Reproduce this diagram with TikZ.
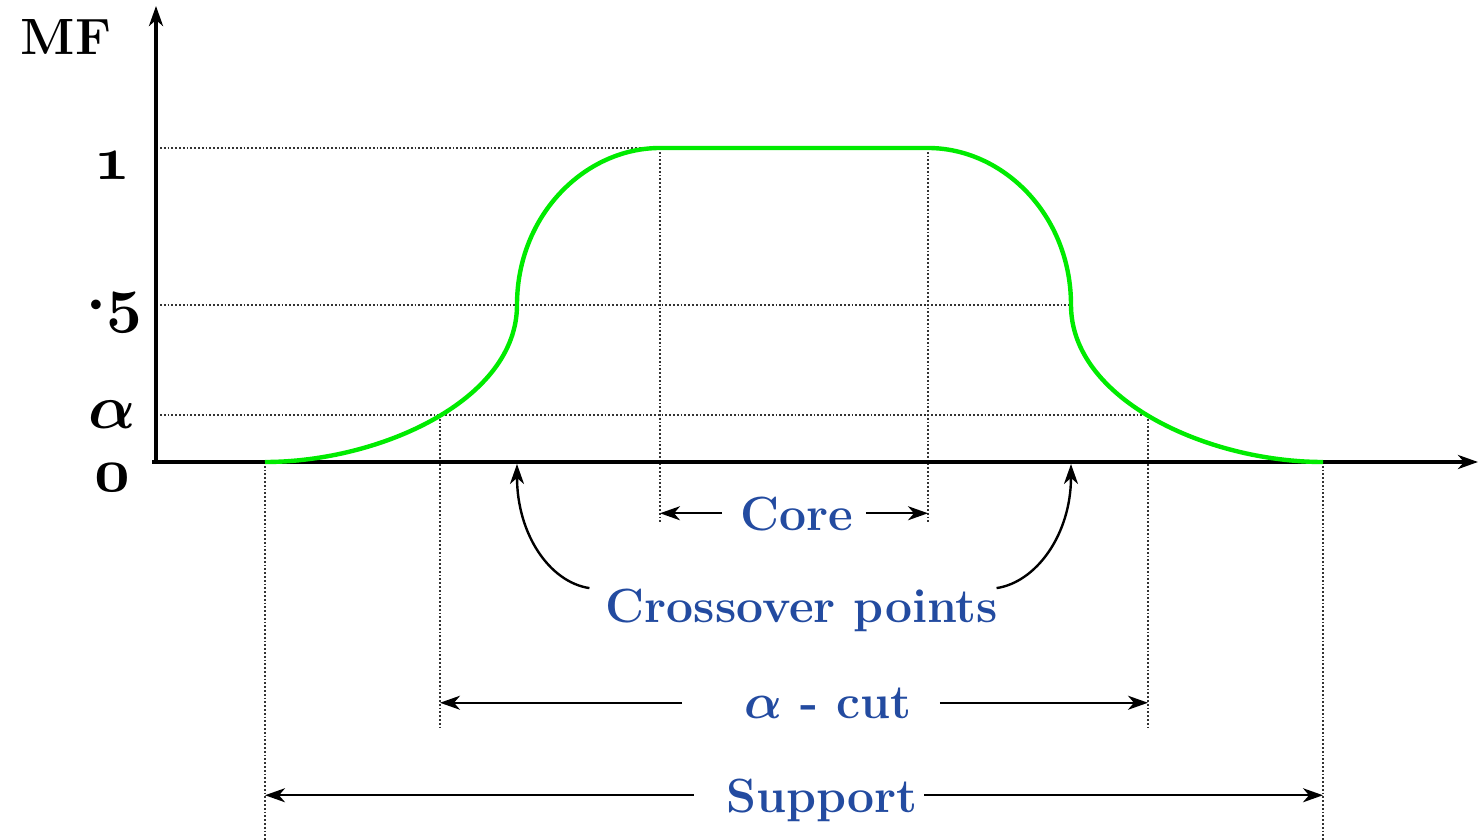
\documentclass[tikz,border=0pt]{standalone}
\usetikzlibrary{positioning,arrows.meta}
\definecolor{labelblue}{RGB}{35,75,160}
\definecolor{mfgreen}{RGB}{0,235,0}
\newcommand{\osf}[1]{{\usefont{OML}{cmm}{b}{it}#1}}

\begin{document}
\begin{tikzpicture}[x=0.5pt,y=-0.5pt,>={Stealth[length=10pt,width=7pt,inset=3pt]},
    axis/.style={line width=2pt,->},
    guide/.style={densely dotted,black!80,line width=0.9pt},
    mf/.style={mfgreen,line width=2.2pt},
    tick/.style={inner sep=0pt,scale=1.25,font=\fontsize{24}{28}\selectfont\bfseries\boldmath},
    tag/.style={inner sep=0pt,text depth=0pt,anchor=base,text=labelblue,font=\fontsize{24}{28}\selectfont\bfseries\boldmath},
    dim/.style={->,line width=1.2pt}]
    \useasboundingbox (0,0) rectangle (1480,840);

    % key points of the membership function
    \coordinate (o) at (156,462);
    \coordinate (s1) at (265,462);
    \coordinate (s2) at (1323,462);
    \coordinate (a1) at (440,415);
    \coordinate (a2) at (1148,415);
    \coordinate (h1) at (517,305);
    \coordinate (h2) at (1071,305);
    \coordinate (k1) at (660,148);
    \coordinate (k2) at (928,148);
    \coordinate (c1) at (517,464);
    \coordinate (c2) at (1071,464);

    % dotted guides
    \draw[guide] (160,148) -- (k2);
    \draw[guide] (160,305) -- (h2);
    \draw[guide] (160,415) -- (a2);
    \draw[guide] (k1) -- (660,522);
    \draw[guide] (k2) -- (928,522);
    \draw[guide] (a1) -- (440,730);
    \draw[guide] (a2) -- (1148,730);
    \draw[guide] (s1) -- (265,840);
    \draw[guide] (s2) -- (1323,840);

    % axes
    \draw[axis] (o) -- (156,6);
    \draw[axis] (152,462) -- (1478,462);

    % membership curve
    \draw[mf] (s1) .. controls (380,462) and (517,400) .. (h1)
        .. controls (517,215) and (585,148) .. (k1) -- (k2)
        .. controls (1003,148) and (1071,215) .. (h2)
        .. controls (1071,400) and (1208,462) .. (s2);

    % axis labels
    \node[tick,scale=0.85] (mflabel) at (66,37) {MF};
    \node[tick] (one) at (112,166) {\osf{1}};
    \node[tick] (half) at (114,312) {$\cdot$\osf{5}};
    \node[tick] (alph) at (112,415) {$\alpha$};
    \node[tick] (zero) at (112,478) {\osf{0}};

    % annotations
    \node[tag] (core) at (797,530) {Core};
    \node[tag] (cross) at (802,622) {Crossover points};
    \node[tag] (acut) at (828,718) {$\alpha$ - cut};
    \node[tag] (supp) at (822,812) {Support};

    \draw[dim] ([xshift=-9pt]core.west) -- (core.west -| k1);
    \draw[dim] ([xshift=6pt]core.east) -- (core.east -| k2);
    \draw[dim] ([xshift=-8pt]cross.north west) .. controls +(-40,-6) and +(0,70) .. (c1);
    \draw[dim] ([xshift=-1pt]cross.north east) .. controls +(40,-6) and +(0,70) .. (c2);
    \draw[dim] ([xshift=-31pt]acut.west) -- (acut.west -| a1);
    \draw[dim] ([xshift=14pt]acut.east) -- (acut.east -| a2);
    \draw[dim] ([xshift=-16pt]supp.west) -- (supp.west -| s1);
    \draw[dim] ([xshift=3pt]supp.east) -- (supp.east -| s2);
\end{tikzpicture}
\end{document}
